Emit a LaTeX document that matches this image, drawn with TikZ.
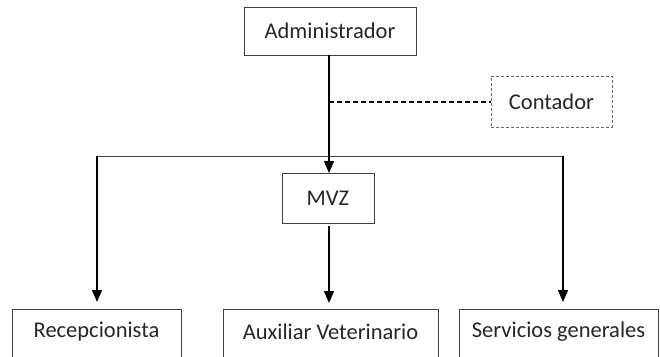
\documentclass[tikz,border=0pt]{standalone}
\usepackage{fontspec}
\setmainfont{Carlito}
\usetikzlibrary{arrows.meta}
\begin{document}
\begin{tikzpicture}[x=1pt,y=-1pt,
  every node/.style={font=\fontsize{22.5}{26}\selectfont, text=black!85, inner sep=0pt, outer sep=0pt},
  box/.style={draw=black!75, line width=0.8pt, rectangle},
  dbox/.style={draw=black!60, line width=0.8pt, dash pattern=on 3pt off 2pt, rectangle},
  openbox/.style={rectangle, draw=none},
  side/.style={draw=black!75, line width=0.8pt},
  conn/.style={draw=black, line width=1.6pt},
  arr/.style={conn, -{Triangle[width=10pt,length=12pt]}},
  dconn/.style={draw=black, line width=1.1pt, dash pattern=on 5pt off 3pt},
  bar/.style={draw=black!75, line width=0.9pt}
]
\useasboundingbox (0,0) rectangle (660,356);
\node[box, minimum width=172pt, minimum height=48pt] (A) at (330,31) {Administrador};
\node[dbox, minimum width=121pt, minimum height=51pt] (C) at (551.5,101.5) {Contador};
\node[box, minimum width=92pt, minimum height=50pt] (M) at (328,198) {MVZ};
\node[openbox, minimum width=169pt, minimum height=46pt] (R) at (96.5,332) {Recepcionista};
\node[openbox, minimum width=215pt, minimum height=46pt] (X) at (330.5,332) {Auxiliar Veterinario};
\node[openbox, minimum width=199pt, minimum height=46pt] (S) at (558.5,332) {Servicios generales};
\foreach \n in {R,X,S}{
  \draw[side] ([yshift=-20pt]\n.south west) -- (\n.north west) -- (\n.north east) -- ([yshift=-20pt]\n.south east);
}
\coordinate (J) at (329,102);
\coordinate (HL) at (97,156);
\coordinate (HR) at (563,156);
\draw[bar] (HL) -- (HR);
\draw[arr] (A.south -| J) -- (M.north -| J);
\draw[dconn] (J) -- (C.west |- J);
\draw[arr, shorten <=3pt, shorten >=6pt] (M.south -| J) -- (X.north -| J);
\draw[arr, shorten >=7pt] (HL) -- (HL |- R.north);
\draw[arr, shorten >=7pt] (HR) -- (HR |- S.north);
\end{tikzpicture}
\end{document}
